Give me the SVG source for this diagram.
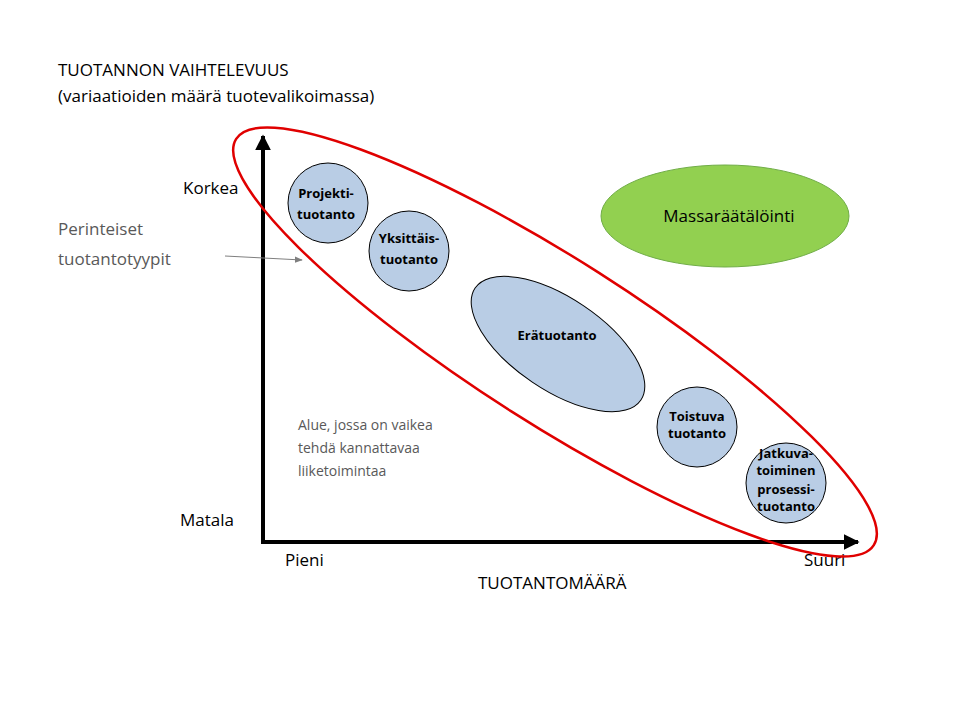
<svg xmlns="http://www.w3.org/2000/svg" width="960" height="720" viewBox="0 0 960 720">
<defs>
<style>
text{font-family:"Open Sans","Liberation Sans",sans-serif}
.lbl{font-size:17px;fill:#000}
.node{fill:#b9cde5;stroke:#000;stroke-width:1}
.nt{font-size:13px;font-weight:bold;text-anchor:middle;fill:#000}
.gray{fill:#595959}
</style>
<marker id="ah" viewBox="0 0 10 10" refX="9" refY="5" markerWidth="4" markerHeight="4" orient="auto"><path d="M0,0L10,5L0,10z" fill="#000"/></marker>
<marker id="ag" viewBox="0 0 10 10" refX="9" refY="5" markerWidth="8" markerHeight="8" orient="auto"><path d="M0,1L10,5L0,9z" fill="#7f7f7f"/></marker>
</defs>
<rect width="960" height="720" fill="#fff"/>
<text class="lbl" x="58" y="76">TUOTANNON VAIHTELEVUUS</text>
<text class="lbl" x="58" y="102">(variaatioiden määrä tuotevalikoimassa)</text>
<text class="lbl" x="183" y="194">Korkea</text>
<text class="lbl" x="180" y="526">Matala</text>
<text class="lbl" x="285" y="566">Pieni</text>
<text class="lbl" x="804" y="566">Suuri</text>
<text class="lbl" x="478" y="589">TUOTANTOMÄÄRÄ</text>
<text class="lbl gray" x="58" y="235">Perinteiset</text>
<text class="lbl gray" x="58" y="265">tuotantotyypit</text>
<g font-size="14" class="gray"><text x="298" y="430" font-size="14">Alue, jossa on vaikea</text><text x="298" y="453" font-size="14">tehdä kannattavaa</text><text x="298" y="476" font-size="14">liiketoimintaa</text></g>
<g id="connectors">
<line x1="263" y1="543" x2="263" y2="136" stroke="#000" stroke-width="4" marker-end="url(#ah)"/>
<line x1="261" y1="542" x2="858" y2="542" stroke="#000" stroke-width="4" marker-end="url(#ah)"/>
<line x1="225" y1="256" x2="302" y2="260" stroke="#7f7f7f" stroke-width="1" marker-end="url(#ag)"/>
</g>
<g id="massa"><ellipse cx="725" cy="216" rx="124" ry="51" fill="#92d050" stroke="#70ad47" stroke-width="1"/><text x="729" y="222" font-size="17" text-anchor="middle">Massaräätälöinti</text></g>
<g id="projekti"><circle class="node" cx="328" cy="203" r="40"/><text class="nt" x="326" y="198">Projekti-</text><text class="nt" x="326" y="219">tuotanto</text></g>
<g id="yksittais"><circle class="node" cx="409" cy="251" r="40"/><text class="nt" x="409" y="243">Yksittäis-</text><text class="nt" x="409" y="264">tuotanto</text></g>
<g id="era"><ellipse class="node" cx="558" cy="344" rx="100" ry="46" transform="rotate(34 558 344)"/><text class="nt" x="557" y="340">Erätuotanto</text></g>
<g id="toistuva"><circle class="node" cx="697" cy="427" r="40"/><text class="nt" x="697" y="421" font-size="11">Toistuva</text><text class="nt" x="697" y="438" font-size="11">tuotanto</text></g>
<g id="jatkuva"><circle class="node" cx="786" cy="483" r="40"/><text class="nt" x="786" y="458" font-size="11">Jatkuva-</text><text class="nt" x="786" y="475" font-size="11">toiminen</text><text class="nt" x="786" y="494" font-size="11">prosessi-</text><text class="nt" x="786" y="511" font-size="11">tuotanto</text></g>
<g id="perinteiset"><ellipse cx="555" cy="342" rx="378" ry="82" transform="rotate(32.5 555 342)" fill="none" stroke="#e00000" stroke-width="2.5"/></g>
</svg>
